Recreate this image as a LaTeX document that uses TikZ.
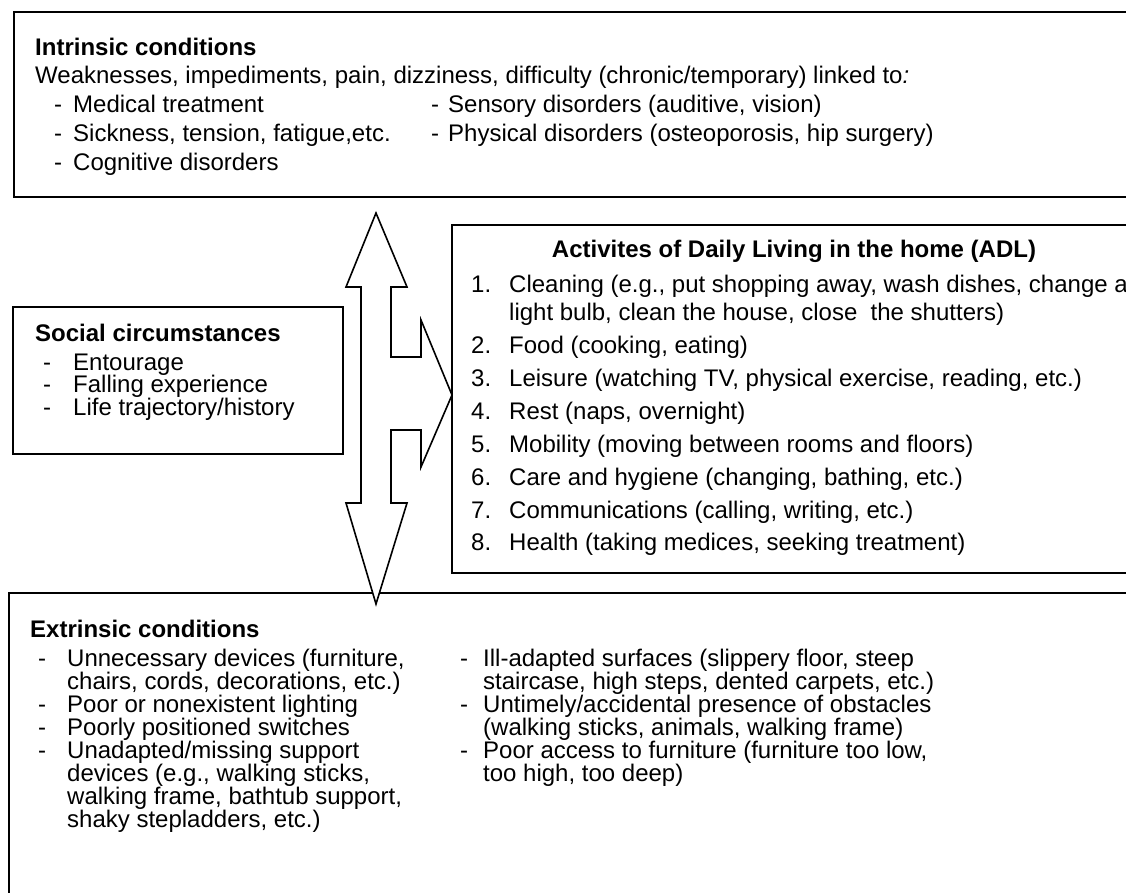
\documentclass[tikz,border=0pt]{standalone}
\usepackage{fontspec}
\setmainfont{Liberation Sans}
\begin{document}
\begin{tikzpicture}[x=1pt,y=-1pt,
  box/.style={draw=black, line width=1.3pt},
  boxfoot/.style={draw=black, line width=2.4pt},
  shape arrow/.style={draw=black, line width=1.6pt, line join=miter, fill=white},
  txt/.style={anchor=base west, inner sep=0pt, font=\fontsize{24}{27.6}\selectfont},
  ttl/.style={anchor=base west, inner sep=0pt, font=\fontsize{24}{27.6}\selectfont\bfseries}]
\useasboundingbox (0,0) rectangle (1126,892);
\clip (0,0) rectangle (1126,892);
% boxes
\draw[box] (14,12) rectangle (1140,197);
\draw[boxfoot] (14,197) -- (1140,197);
\draw[box] (13,307) rectangle (343,454);
\draw[boxfoot] (13,454) -- (343,454);
\draw[box] (452,225) rectangle (1140,573);
\draw[boxfoot] (452,573) -- (1140,573);
\draw[box] (9,593) rectangle (1140,900);
% double arrow with side branch
\draw[shape arrow] (376,213) -- (407,287) -- (391,287) -- (391,357) -- (421,357) -- (421,320)
  -- (452,395) -- (421,467) -- (421,430) -- (391,430) -- (391,503) -- (407,503)
  -- (376,604) -- (346,503) -- (361,503) -- (361,287) -- (346,287) -- cycle;
% intrinsic
\node[ttl] (it) at (35,55) {Intrinsic conditions};
\node[txt] (i1) at (35,83) {Weaknesses, impediments, pain, dizziness, difficulty (chronic/temporary) linked to\textit{:}};
\node[txt] (i2) at (54,112) {\makebox[19pt][l]{-}Medical treatment};
\node[txt] (i3) at (54,141) {\makebox[19pt][l]{-}Sickness, tension, fatigue,etc.};
\node[txt] (i4) at (54,170) {\makebox[19pt][l]{-}Cognitive disorders};
\node[txt] (i5) at (431,112) {\makebox[17pt][l]{-}Sensory disorders (auditive, vision)};
\node[txt] (i6) at (431,141) {\makebox[17pt][l]{-}Physical disorders (osteoporosis, hip surgery)};
% social
\node[ttl] (st) at (35,341) {Social circumstances};
\node[txt] (s1) at (43,370) {\makebox[30pt][l]{-}Entourage};
\node[txt] (s2) at (43,392.5) {\makebox[30pt][l]{-}Falling experience};
\node[txt] (s3) at (43,415) {\makebox[30pt][l]{-}Life trajectory/history};
% ADL
\node[ttl, anchor=base] (at) at (794,257) {Activites of Daily Living in the home (ADL)};
\node[txt] (a1) at (471,292) {\makebox[38pt][l]{1.}Cleaning (e.g., put shopping away, wash dishes, change a};
\node[txt] (a1b) at (509,320) {light bulb, clean the house, close\ \ the shutters)};
\node[txt] (a2) at (471,353) {\makebox[38pt][l]{2.}Food (cooking, eating)};
\node[txt] (a3) at (471,386) {\makebox[38pt][l]{3.}Leisure (watching TV, physical exercise, reading, etc.)};
\node[txt] (a4) at (471,419) {\makebox[38pt][l]{4.}Rest (naps, overnight)};
\node[txt] (a5) at (471,452) {\makebox[38pt][l]{5.}Mobility (moving between rooms and floors)};
\node[txt] (a6) at (471,485) {\makebox[38pt][l]{6.}Care and hygiene (changing, bathing, etc.)};
\node[txt] (a7) at (471,518) {\makebox[38pt][l]{7.}Communications (calling, writing, etc.)};
\node[txt] (a8) at (471,550) {\makebox[38pt][l]{8.}Health (taking medices, seeking treatment)};
% extrinsic
\node[ttl] (et) at (30,637) {Extrinsic conditions};
\node[txt] (e1) at (38,666) {\makebox[29pt][l]{-}Unnecessary devices (furniture,};
\node[txt] (e1b) at (67,689) {chairs, cords, decorations, etc.)};
\node[txt] (e2) at (38,712) {\makebox[29pt][l]{-}Poor or nonexistent lighting};
\node[txt] (e3) at (38,735) {\makebox[29pt][l]{-}Poorly positioned switches};
\node[txt] (e4) at (38,758) {\makebox[29pt][l]{-}Unadapted/missing support};
\node[txt] (e4b) at (67,781) {devices (e.g., walking sticks,};
\node[txt] (e4c) at (67,804) {walking frame, bathtub support,};
\node[txt] (e4d) at (67,827) {shaky stepladders, etc.)};
\node[txt] (f1) at (460,666) {\makebox[23pt][l]{-}Ill-adapted surfaces (slippery floor, steep};
\node[txt] (f1b) at (483,689) {staircase, high steps, dented carpets, etc.)};
\node[txt] (f2) at (460,712) {\makebox[23pt][l]{-}Untimely/accidental presence of obstacles};
\node[txt] (f2b) at (483,735) {(walking sticks, animals, walking frame)};
\node[txt] (f3) at (460,758) {\makebox[23pt][l]{-}Poor access to furniture (furniture too low,};
\node[txt] (f3b) at (483,781) {too high, too deep)};
\end{tikzpicture}
\end{document}
